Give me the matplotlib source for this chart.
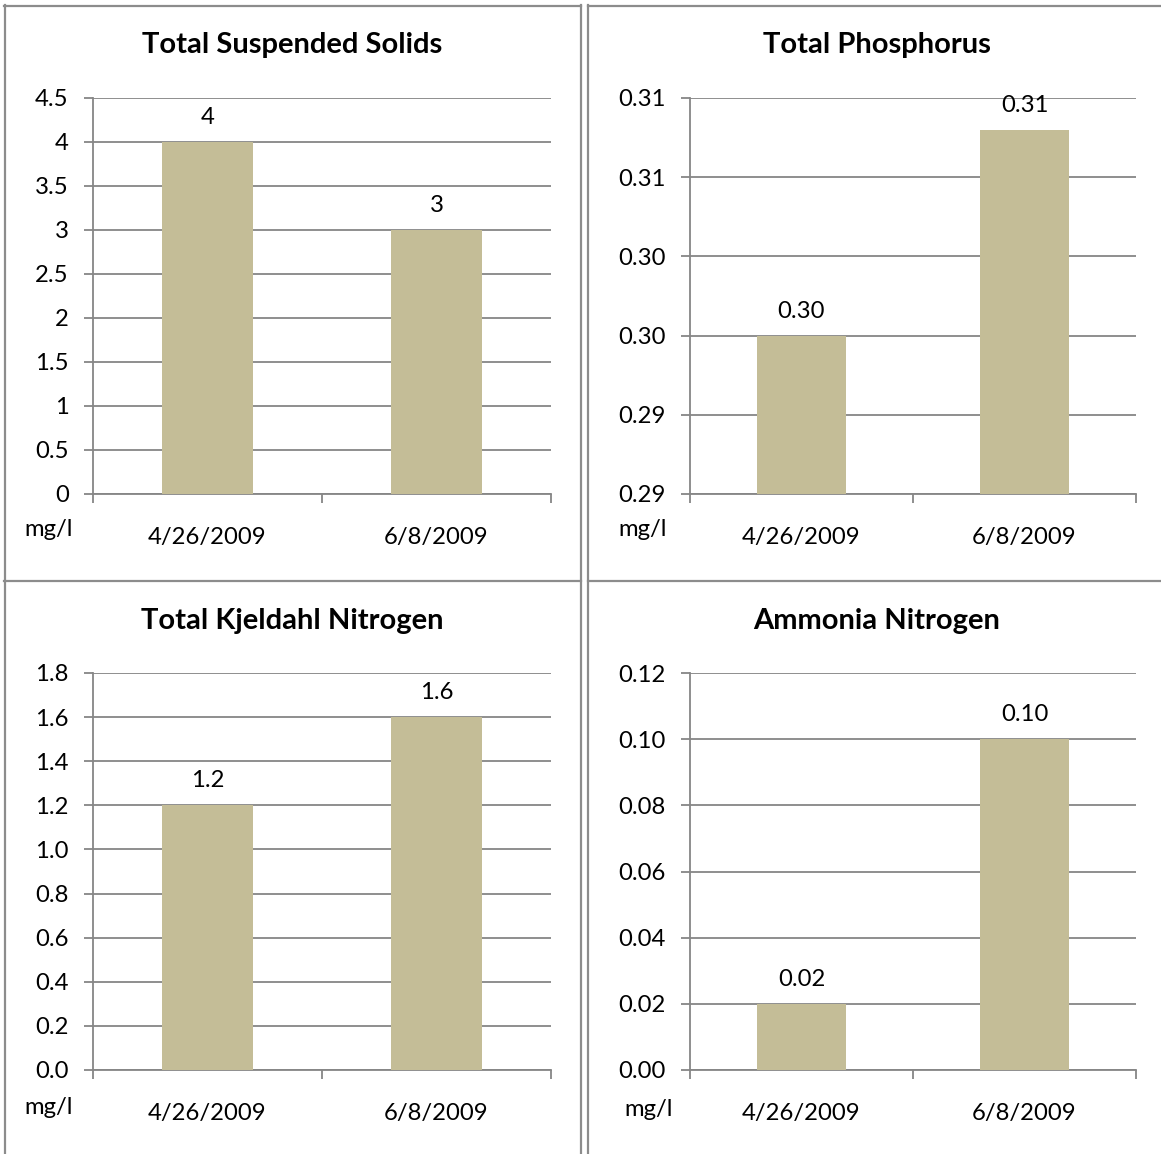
import matplotlib
matplotlib.use("Agg")
import matplotlib.pyplot as plt
from matplotlib.lines import Line2D
from matplotlib.ticker import FixedLocator, FixedFormatter

plt.rcParams['font.family'] = ['Lato', 'DejaVu Sans']

# Sampling dates and measured concentrations (mg/l)
dates = ["4/26/2009", "6/8/2009"]
tss_values = [4, 3]
tp_values = [0.298, 0.3084]
tkn_values = [1.2, 1.6]
nh3_values = [0.02, 0.10]

titles = ["Total Suspended Solids", "Total Phosphorus",
          "Total Kjeldahl Nitrogen", "Ammonia Nitrogen"]

# Axis scales (min, max, step)
tss_scale = (0, 4.5, 0.5)
tp_scale = (0.290, 0.310, 0.004)
tkn_scale = (0, 1.8, 0.2)
nh3_scale = (0, 0.12, 0.02)

BAR = "#C4BD97"
GRID = "#868686"
FRAME = "#8C8C8C"
FS = 17.2

W, H = 1161, 1154
fig = plt.figure(figsize=(W / 100, H / 100), dpi=100)


def px_rect(x0, y0, x1, y1):
    return [x0 / W, 1 - y1 / H, (x1 - x0) / W, (y1 - y0) / H]


def fmt_general(v):
    s = f"{v:.1f}"
    return s[:-2] if s.endswith(".0") else s


panels = [
    (tss_values, tss_scale, fmt_general, fmt_general, (93, 98, 551, 494), 292, 45, (49, 530)),
    (tp_values, tp_scale, lambda v: f"{v:.2f}", lambda v: f"{v:.2f}", (690, 98, 1136, 494), 877, 45, (643, 530)),
    (tkn_values, tkn_scale, lambda v: f"{v:.1f}", lambda v: f"{v:.1f}", (93, 673, 551, 1070), 292, 621, (49, 1107)),
    (nh3_values, nh3_scale, lambda v: f"{v:.2f}", lambda v: f"{v:.2f}", (690, 673, 1136, 1070), 877, 621, (649, 1110)),
]

for (vals, (lo, hi, step), tfmt, lfmt, rect, tx, ty, mg), title in zip(panels, titles):
    ax = fig.add_axes(px_rect(*rect))
    n = int(round((hi - lo) / step))
    yticks = [lo + i * step for i in range(n + 1)]
    ax.set_ylim(lo, hi)
    ax.set_xlim(-0.5, 1.5)
    ax.bar(range(len(vals)), vals, width=0.4, color=BAR, zorder=3)
    ax.yaxis.set_major_locator(FixedLocator(yticks))
    ax.yaxis.set_major_formatter(FixedFormatter([tfmt(t) for t in yticks]))
    ax.grid(axis="y", color=GRID, linewidth=1.3, zorder=0)
    ax.set_axisbelow(True)
    ax.set_xticks(range(len(dates)))
    ax.set_xticklabels(dates)
    ax.set_xticks([-0.5, 0.5, 1.5], minor=True)
    ax.tick_params(axis="x", which="major", length=0, pad=24, labelsize=FS)
    ax.tick_params(axis="x", which="minor", length=6.5, width=1.3, color=GRID, direction="out")
    ax.tick_params(axis="y", length=6.5, width=1.3, color=GRID, pad=11, labelsize=FS)
    for s in ("top", "right"):
        ax.spines[s].set_visible(False)
    for s in ("left", "bottom"):
        ax.spines[s].set_color(GRID)
        ax.spines[s].set_linewidth(1.3)
    for i, v in enumerate(vals):
        ax.annotate(lfmt(v), (i, v), xytext=(0, 10), textcoords="offset points",
                    ha="center", va="bottom", fontsize=FS)
    fig.text(tx / W, 1 - ty / H, title, ha="center", va="center",
             fontsize=21, fontweight="bold")
    fig.text(mg[0] / W, 1 - mg[1] / H, "mg/l", ha="center", va="center", fontsize=FS)


# Panel frames
def hline(y, x0, x1):
    fig.add_artist(Line2D([x0 / W, x1 / W], [1 - y / H, 1 - y / H], color=FRAME, linewidth=1.6))


def vline(x, y0, y1):
    fig.add_artist(Line2D([x / W, x / W], [1 - y0 / H, 1 - y1 / H], color=FRAME, linewidth=1.6))


hline(5.5, 4, 581)
hline(5.5, 588, W)
hline(580.5, 4, 581)
hline(580.5, 588, W)
vline(4.5, 5, H)
vline(580.5, 5, H)
vline(588.5, 5, H)

fig.savefig("out.png", dpi=100)
